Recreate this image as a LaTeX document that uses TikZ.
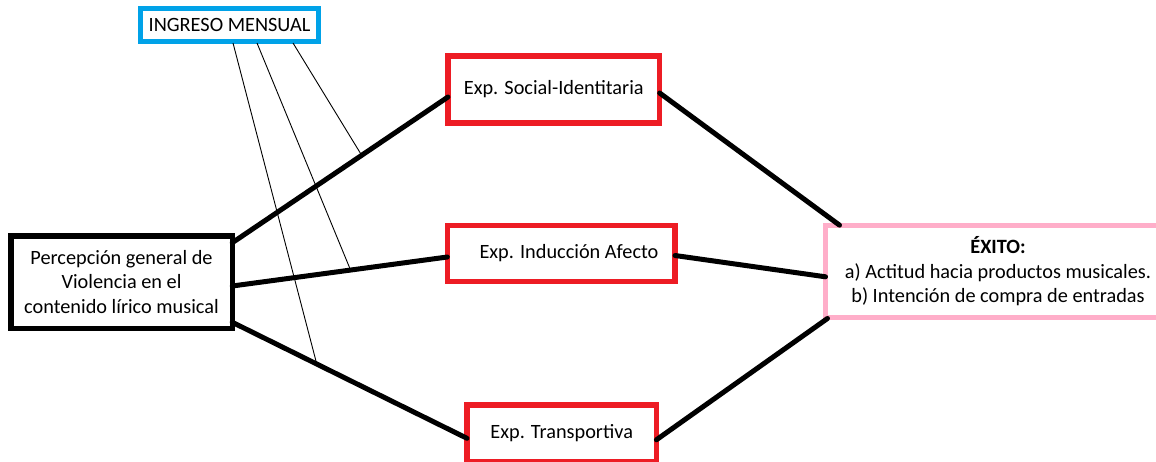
\documentclass[tikz,border=0pt]{standalone}
\usepackage{fontspec}
\setmainfont{Carlito}
\usetikzlibrary{calc}
\definecolor{boxred}{HTML}{ED1C24}
\definecolor{boxblue}{HTML}{00A2E8}
\definecolor{boxpink}{HTML}{FFAEC9}
\tikzset{
  box/.style={draw, rectangle, inner sep=0pt, outer sep=0pt, fill=white,
    font=\fontsize{20.3}{24.5}\selectfont, align=center},
  redbox/.style={box, draw=boxred, line width=5.3pt},
  conn/.style={line width=5pt, line cap=round},
  modline/.style={line width=0.9pt},
}
\begin{document}
\begin{tikzpicture}[x=1pt,y=-1pt]
\path[use as bounding box] (0,0) rectangle (1156,461);
\fill[white] (0,0) rectangle (1156,461);
\clip (0,0) rectangle (1156,461);

\node[box, draw=black, line width=5.5pt, minimum width=221.5pt, minimum height=92.5pt] (perc) at (121.5,282)
  {Percepción general de\\Violencia en el\\contenido lírico musical};
\node[box, draw=boxblue, line width=5pt, minimum width=178pt, minimum height=33pt] (ing) at (229.5,25)
  {INGRESO MENSUAL};
\node[redbox, minimum width=211.7pt, minimum height=67pt] (soc) at (553.8,89.5)
  {Exp. Social-Identitaria};
\node[redbox, minimum width=227.7pt, minimum height=56.5pt] (ind) at (561.2,253.5)
  {\hspace*{15.6pt}Exp. Inducción Afecto};
\node[redbox, minimum width=189.4pt, minimum height=56.7pt] (tra) at (561.7,433.3)
  {Exp. Transportiva};
\node[box, draw=boxpink, line width=5pt, minimum width=345pt, minimum height=92.3pt] (exi) at (998,271.3)
  {\textbf{ÉXITO:}\\a) Actitud hacia productos musicales.\\b) Intención de compra de entradas};

% connector paths (coordinates first, drawn later on top of the thin lines)
\path ($(perc.north east)+(0,7)$) coordinate (p1) -- coordinate[pos=0.6] (m1) ($(soc.west)+(0,7.5)$) coordinate (s1);
\path ($(perc.east)+(0,4)$) coordinate (p2) -- coordinate[pos=0.55] (m2) ($(ind.west)+(0,3.5)$) coordinate (i1);
\path ($(perc.south east)+(0,-6)$) coordinate (p3) -- coordinate[pos=0.36] (m3) ($(tra.west)+(0,5)$) coordinate (t1);

\draw[modline] ($(ing.south)+(3.5,1.5)$) -- (m3);
\draw[modline] ($(ing.south)+(27.5,1.5)$) -- (m2);
\draw[modline] ($(ing.south)+(63.5,1.5)$) -- (m1);

\draw[conn] (p1) -- (s1);
\draw[conn] (p2) -- (i1);
\draw[conn] (p3) -- (t1);
\draw[conn] ($(soc.east)+(0,3.5)$) -- ($(exi.north west)+(14,0)$);
\draw[conn] ($(ind.east)+(0,2)$) -- ($(exi.west)+(0,5.5)$);
\draw[conn] ($(tra.east)+(0,6.5)$) -- ($(exi.south west)+(2,1)$);
\end{tikzpicture}
\end{document}
